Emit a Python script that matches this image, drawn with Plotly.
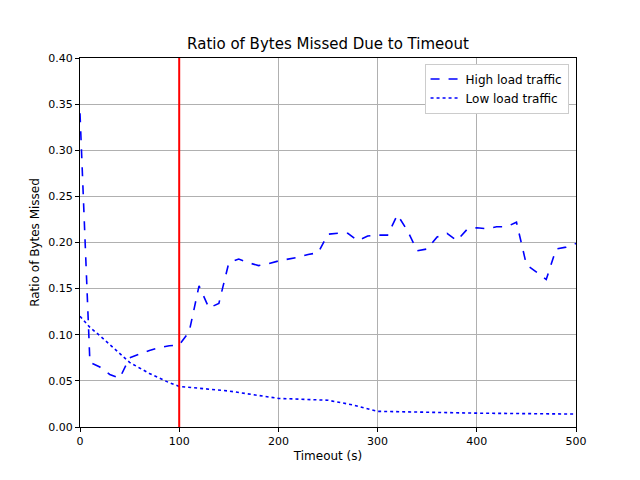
import plotly.graph_objects as go

high_x = list(range(0, 501, 10))
high_y = [0.34, 0.07, 0.065, 0.057, 0.053, 0.075, 0.079, 0.083, 0.086, 0.088, 0.089,
          0.103, 0.153, 0.129, 0.134, 0.178, 0.182, 0.178, 0.175, 0.177, 0.180,
          0.182, 0.184, 0.187, 0.189, 0.209, 0.210, 0.210, 0.202, 0.207, 0.208,
          0.208, 0.230, 0.213, 0.191, 0.193, 0.206, 0.210, 0.202, 0.214, 0.216,
          0.215, 0.217, 0.217, 0.222, 0.176, 0.168, 0.160, 0.193, 0.195, 0.199]
low_x = [0, 10, 20, 30, 40, 50, 60, 70, 80, 90, 100, 150, 200, 250, 275, 300, 400, 500]
low_y = [0.12, 0.108, 0.099, 0.089, 0.079, 0.070, 0.064, 0.058, 0.053, 0.048, 0.044,
         0.039, 0.031, 0.029, 0.024, 0.017, 0.015, 0.014]
threshold = 100

fig = go.Figure()
fig.add_trace(go.Scatter(x=high_x, y=high_y, mode="lines", name="High load traffic",
                         line=dict(color="blue", dash="dash", width=1.6)))
fig.add_trace(go.Scatter(x=low_x, y=low_y, mode="lines", name="Low load traffic",
                         line=dict(color="blue", dash="dot", width=1.6)))
fig.add_shape(type="line", x0=threshold, x1=threshold, y0=0, y1=1, yref="paper",
              line=dict(color="red", width=2))

axis = dict(showgrid=True, gridcolor="#b0b0b0", linecolor="black", mirror=True,
            ticks="outside", ticklen=4, tickcolor="black", zeroline=False, showline=True,
            automargin=False, tickfont=dict(size=11))
fig.update_layout(
    width=640, height=480, paper_bgcolor="white", plot_bgcolor="white",
    font=dict(family="DejaVu Sans", size=12, color="black"),
    margin=dict(l=72, r=72, t=50, b=61),
    title=dict(text="Ratio of Bytes Missed Due to Timeout", x=0.5, xanchor="center",
               y=1 - 36/480, yanchor="middle", font=dict(size=15)),
    xaxis=dict(axis, range=[0, 500], dtick=100, title=dict(text="Timeout (s)", standoff=4,
                                                           font=dict(size=12))),
    yaxis=dict(axis, range=[0, 0.4], dtick=0.05, tickformat=".2f",
               title=dict(text="Ratio of Bytes Missed", standoff=6, font=dict(size=12))),
    legend=dict(x=0.985, y=0.985, xanchor="right", yanchor="top", bgcolor="white",
                bordercolor="#cccccc", borderwidth=1, font=dict(size=12)),
)
fig.write_html("out.html")
